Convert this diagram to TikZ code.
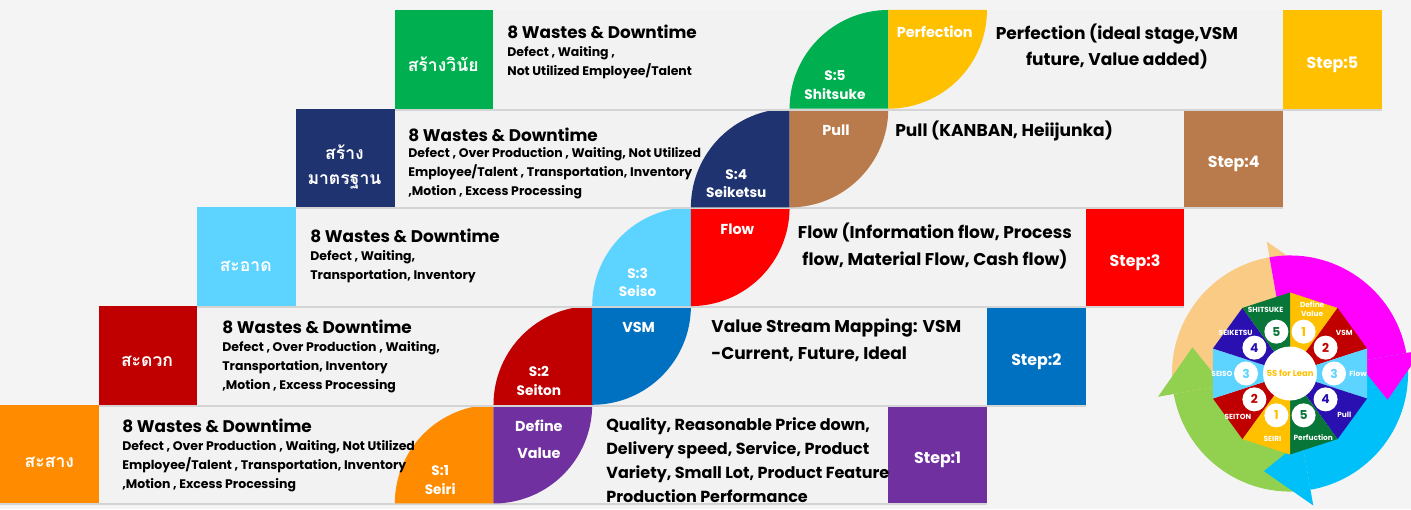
\documentclass[tikz,border=0pt]{standalone}
\usepackage{fontspec}
\setmainfont{Poppins}
\newfontfamily\thaifont[Script=Thai]{Loma}
\usetikzlibrary{positioning}
\definecolor{leanorange}{HTML}{FF8C00}
\definecolor{leanred}{HTML}{C00000}
\definecolor{leansky}{HTML}{5DD3FF}
\definecolor{leannavy}{HTML}{1F3370}
\definecolor{leangreen}{HTML}{00B050}
\definecolor{leanpurple}{HTML}{7030A0}
\definecolor{leanblue}{HTML}{0070C0}
\definecolor{leanbright}{HTML}{FF0000}
\definecolor{leanbrown}{HTML}{B97B4B}
\definecolor{leangold}{HTML}{FFC000}
\definecolor{leanbg}{HTML}{F4F4F4}
\definecolor{leanband}{HTML}{F2F2F2}
\definecolor{leanline}{HTML}{D4D4D4}
\definecolor{wheelindigo}{HTML}{2A10B0}
\definecolor{wheelgreen}{HTML}{087638}
\definecolor{ringpeach}{HTML}{F9CB84}
\definecolor{ringgreen}{HTML}{92D050}
\definecolor{ringmagenta}{HTML}{FF00FF}
\definecolor{ringcyan}{HTML}{00C0FA}

\tikzset{
  thailabel/.style={font=\thaifont\bfseries\fontsize{10}{14}\selectfont, text=white, align=center, inner sep=0pt},
  wastetitle/.style={font=\bfseries\fontsize{9.6}{10}\selectfont, anchor=base west, inner sep=0pt},
  wastebody/.style={font=\bfseries\fontsize{7.1}{10.8}\selectfont, anchor=base west, align=left, inner sep=0pt},
  slabel/.style={font=\bfseries\fontsize{7.8}{10.6}\selectfont, text=white, align=center, inner sep=0pt},
  toollabel/.style={font=\bfseries\fontsize{8.2}{15.4}\selectfont, text=white, align=center, inner sep=0pt},
  desc/.style={font=\bfseries\fontsize{9.7}{15.2}\selectfont, inner sep=0pt},
  steplabel/.style={font=\bfseries\fontsize{9}{11}\selectfont, text=white, inner sep=0pt},
  wheeltext/.style={font=\bfseries\fontsize{4.2}{5}\selectfont, text=white, align=center, inner sep=0pt},
  wheelnum/.style={circle, fill=white, minimum size=0.48cm, inner sep=0pt, font=\bfseries\fontsize{7}{7}\selectfont}
}

\begin{document}
\begin{tikzpicture}[x=1.974cm, y=1.974cm]
  \useasboundingbox (0,-0.0608) rectangle (14.296,5.1013);
  \fill[leanbg] (0,-0.0608) rectangle (14.296,5.1013);

  % staircase rows
  \foreach \k/\lcol/\rcol in {0/leanorange/leanpurple, 1/leanred/leanblue, 2/leansky/leanbright, 3/leannavy/leanbrown, 4/leangreen/leangold} {
    \fill[leanline] (\k,\k-0.02) rectangle (\k+10,\k+1);
    \fill[leanband] (\k,\k) rectangle (\k+10,\k+1);
    \fill[\lcol] (\k,\k) rectangle (\k+1,\k+1);
    \fill[\lcol] (\k+5,\k) -- (\k+4,\k) arc[start angle=180, end angle=90, radius=1] -- cycle;
    \fill[\rcol] (\k+5,\k+1) -- (\k+6,\k+1) arc[start angle=0, end angle=-90, radius=1] -- cycle;
    \fill[\rcol] (\k+9,\k) rectangle (\k+10,\k+1);
  }

  \node[thailabel] (thai1) at (0.5,0.42) {สะสาง};
  \node[thailabel] (thai2) at (1.49,1.44) {สะดวก};
  \node[thailabel] (thai3) at (2.49,2.40) {สะอาด};
  \node[thailabel] (thai4) at (3.49,3.41) {สร้าง\\มาตรฐาน};
  \node[thailabel] (thai5) at (4.49,4.45) {สร้างวินัย};

  % wastes: base of a body node is its last line
  \node[wastetitle] (title1) at (1.236,0.721) {8 Wastes \& Downtime};
  \node[wastebody] (waste1) at (1.236,0.154) {Defect , Over Production , Waiting, Not Utilized\\Employee/Talent , Transportation, Inventory\\,Motion , Excess Processing};
  \node[wastetitle] (title2) at (2.249,1.721) {8 Wastes \& Downtime};
  \node[wastebody] (waste2) at (2.249,1.154) {Defect , Over Production , Waiting,\\Transportation, Inventory\\,Motion , Excess Processing};
  \node[wastetitle] (title3) at (3.141,2.640) {8 Wastes \& Downtime};
  \node[wastebody] (waste3) at (3.141,2.266) {Defect , Waiting,\\Transportation, Inventory};
  \node[wastetitle] (title4) at (4.134,3.671) {8 Wastes \& Downtime};
  \node[wastebody] (waste4) at (4.134,3.124) {Defect , Over Production , Waiting, Not Utilized\\Employee/Talent , Transportation, Inventory\\,Motion , Excess Processing};
  \node[wastetitle] (title5) at (5.137,4.711) {8 Wastes \& Downtime};
  \node[wastebody] (waste5) at (5.137,4.337) {Defect , Waiting ,\\Not Utilized Employee/Talent};

  \foreach \k/\n/\sname in {0/1/Seiri, 1/2/Seiton, 2/3/Seiso, 3/4/Seiketsu, 4/5/Shitsuke} {
    \node[slabel] (s\n) at (\k+4.46,\k+0.24) {S:\n\\\sname};
    \node[steplabel] (step\n) at (\k+9.5,\k+0.44) {Step:\n};
  }

  \node[toollabel] (tool1) at (5.46,0.65) {Define\\Value};
  \foreach \k/\tool in {1/VSM, 2/Flow, 3/Pull, 4/Perfection}
    \node[toollabel] (tool\k) at (\k+5.47,\k+0.78) {\tool};

  \node[desc, anchor=west, align=left, font=\bfseries\fontsize{9.1}{13.7}\selectfont] (desc1) at (6.14,0.436) {Quality, Reasonable Price down,\\Delivery speed, Service, Product\\Variety, Small Lot, Product Feature\\Production Performance};
  \node[desc, anchor=west, align=left] (desc2) at (7.204,1.651) {Value Stream Mapping: VSM\\-Current, Future, Ideal};
  \node[desc, align=center] (desc3) at (9.473,2.609) {Flow (Information flow, Process\\flow, Material Flow, Cash flow)};
  \node[desc, anchor=west] (desc4) at (9.068,3.779) {Pull (KANBAN, Heiijunka)};
  \node[desc, align=center] (desc5) at (11.317,4.630) {Perfection (ideal stage,VSM\\future, Value added)};

  % 5S for Lean wheel
  \begin{scope}[shift={(13.07,1.317)}, x=0.02cm, y=0.02cm]
    \foreach \a/\col in {100/ringpeach, 190/ringgreen, 280/ringcyan}
      \fill[\col] (\a:70) arc[start angle=\a, end angle=\a+90, radius=70] -- (\a+90:118) arc[start angle=\a+90, end angle=\a, radius=118] -- cycle;
    \fill[ringpeach] (100:68) -- (100:134) -- (75:101) -- cycle;
    \fill[ringmagenta] (10:70) arc[start angle=10, end angle=100, radius=70] -- (100:118) arc[start angle=100, end angle=10, radius=118] -- cycle;
    \foreach \a/\col in {190/ringgreen, 280/ringcyan, 10/ringmagenta}
      \fill[\col] (\a:68) -- (\a:134) -- (\a-25:101) -- cycle;
    \foreach \a/\col in {54/leangold, 18/leanred, -18/leansky, -54/wheelindigo, -90/wheelgreen, -126/leangold, -162/leanred, -198/leansky, -234/wheelindigo, -270/wheelgreen}
      \fill[\col] (0,0) -- (\a:81) -- (\a+36:81) -- cycle;
    \node[circle, fill=white, minimum size=1.08cm, inner sep=0pt, text=leangold, font=\bfseries\fontsize{4.8}{5}\selectfont] (hub) at (0,0) {5S for Lean};
    \foreach \a/\n/\col in {72/1/leangold, 36/2/leanred, 0/3/leansky, -36/4/wheelindigo, -72/5/wheelgreen, -108/1/leangold, -144/2/leanred, 180/3/leansky, 144/4/wheelindigo, 108/5/wheelgreen}
      \node[wheelnum, text=\col] (num\a) at (\a:44) {\n};
    \foreach \a/\txt in {71/{Define\\Value}, 37/VSM, 0/Flow, -37/Pull, -70/Perfuction, -105/SEIRI, -140/SEITON, 180/SEISO, 143/SEIKETSU, 111/SHITSUKE}
      \node[wheeltext] (lab\a) at (\a:68) {\txt};
  \end{scope}
\end{tikzpicture}
\end{document}
